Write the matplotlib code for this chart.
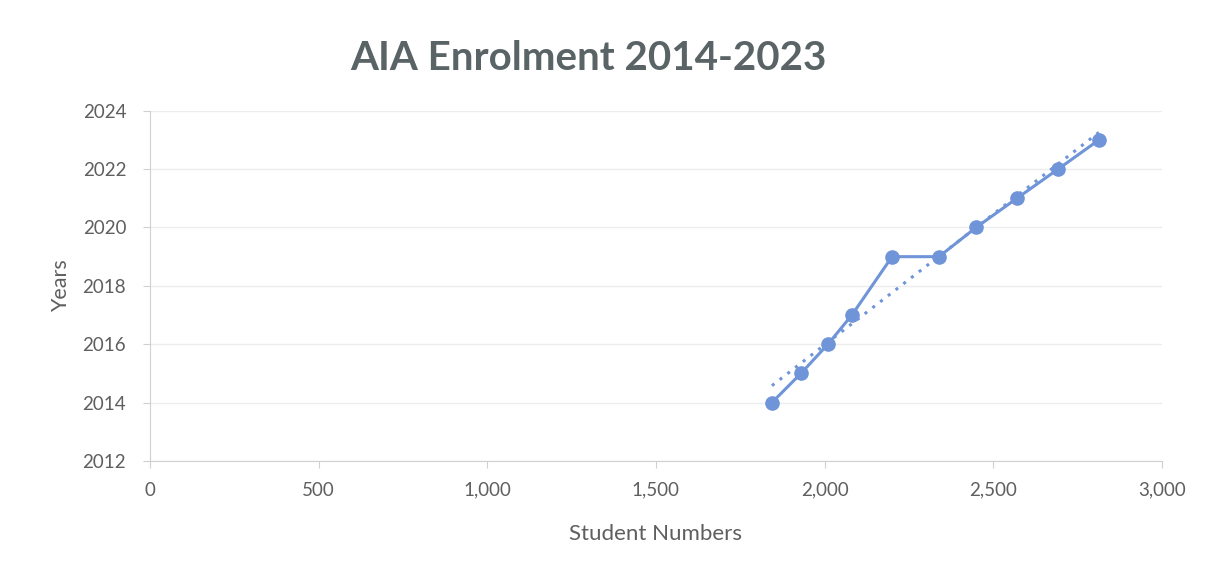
import matplotlib
matplotlib.use("Agg")
import matplotlib.pyplot as plt
import numpy as np
from matplotlib.ticker import FuncFormatter

# values
students = [1844, 1930, 2010, 2081, 2200, 2339, 2449, 2570, 2692, 2813]
years = [2014, 2015, 2016, 2017, 2019, 2019, 2020, 2021, 2022, 2023]

LINE_COLOR = "#7094d8"
TEXT_COLOR = "#5f5f5f"
AXIS_COLOR = "#d0d0d0"

plt.rcParams["font.family"] = ["Lato", "DejaVu Sans"]

fig = plt.figure(figsize=(12.18, 5.74), dpi=100)
ax = fig.add_axes([0.123, 0.197, 0.831, 0.610])

ax.plot(students, years, color=LINE_COLOR, linewidth=2.2, marker="o",
        markersize=9.5, zorder=3)

# linear trendline, dotted
slope, intercept = np.polyfit(students, years, 1)
trend_x = np.array([min(students), max(students)])
ax.plot(trend_x, slope * trend_x + intercept, color=LINE_COLOR, linewidth=2.2,
        linestyle=(0, (1, 2.2)), zorder=2)

ax.set_xlim(0, 3000)
ax.set_ylim(2012, 2024)
ax.set_xticks(range(0, 3001, 500))
ax.set_yticks(range(2012, 2025, 2))
ax.xaxis.set_major_formatter(FuncFormatter(lambda v, _p: f"{int(v):,}"))

ax.grid(axis="y", color="#ececec", linewidth=1)
ax.set_axisbelow(True)
for side in ("top", "right"):
    ax.spines[side].set_visible(False)
for side in ("left", "bottom"):
    ax.spines[side].set_color(AXIS_COLOR)
ax.tick_params(axis="both", colors=AXIS_COLOR, labelcolor=TEXT_COLOR,
               labelsize=13.5, length=5)
ax.tick_params(axis="y", pad=12)
ax.tick_params(axis="x", pad=10)

ax.set_xlabel("Student Numbers", color=TEXT_COLOR, fontsize=16, labelpad=18)
ax.set_ylabel("Years", color=TEXT_COLOR, fontsize=15.5, labelpad=8)
fig.text(0.483, 0.898, "AIA Enrolment 2014-2023", color="#5a6466", fontsize=29,
         fontweight="bold", ha="center", va="center")

fig.savefig("out.png", dpi=100, facecolor="white")
